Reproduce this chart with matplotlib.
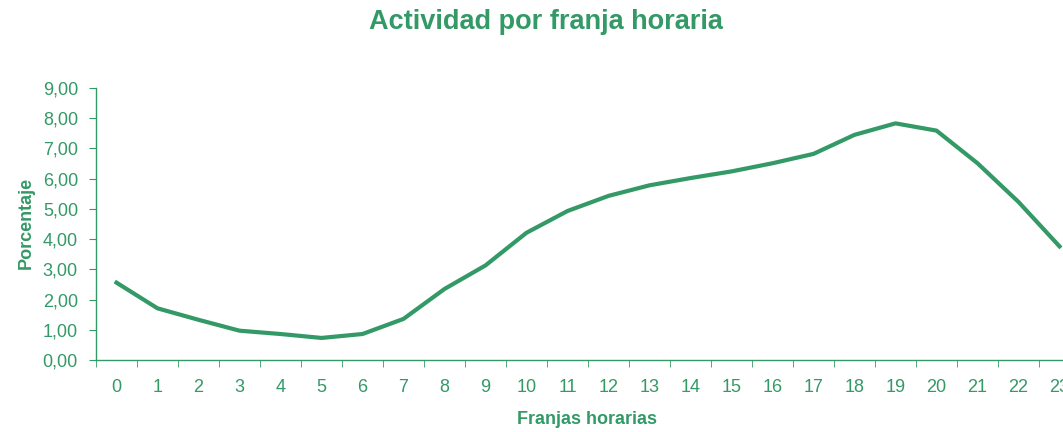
import matplotlib
matplotlib.use("Agg")
import matplotlib.pyplot as plt
from matplotlib.ticker import FixedLocator, FuncFormatter

hours = [str(h) for h in range(24)]
porcentaje = [2.56, 1.71, 1.33, 0.97, 0.86, 0.73, 0.86, 1.36, 2.35, 3.13,
              4.21, 4.93, 5.43, 5.78, 6.02, 6.24, 6.51, 6.82, 7.45, 7.83,
              7.59, 6.51, 5.23, 3.76]
title = "Actividad por franja horaria"
xlabel = "Franjas horarias"
ylabel = "Porcentaje"
yticks = [0, 1, 2, 3, 4, 5, 6, 7, 8, 9]

GREEN = "#339966"
plt.rcParams['font.family'] = ['Liberation Sans', 'DejaVu Sans']

W, H = 1063, 432
fig = plt.figure(figsize=(W / 100, H / 100), dpi=100)
ax = fig.add_axes([96 / W, 1 - 360 / H, 984 / W, 272 / H])

x = list(range(len(hours)))
ax.plot(x, porcentaje, color=GREEN, lw=3.0, solid_joinstyle='round', clip_on=False)

ax.set_xlim(-0.5, len(hours) - 0.5)
ax.set_ylim(0, 9)

for s in ['top', 'right']:
    ax.spines[s].set_visible(False)
for s in ['left', 'bottom']:
    ax.spines[s].set_color(GREEN)
    ax.spines[s].set_linewidth(1.0)

ax.set_yticks(yticks)
ax.yaxis.set_major_formatter(FuncFormatter(lambda v, p: f"{v:.2f}".replace('.', ',')))
ax.tick_params(axis='y', colors=GREEN, labelcolor=GREEN, labelsize=13, length=5, pad=8)

ax.set_xticks(x)
ax.set_xticklabels(hours)
ax.tick_params(axis='x', which='major', length=0, pad=14, labelsize=13, labelcolor=GREEN)
ax.xaxis.set_minor_locator(FixedLocator([i - 0.5 for i in range(len(hours) + 1)]))
ax.tick_params(axis='x', which='minor', length=5, color=GREEN)

fig.text(546 / W, 1 - 22 / H, title, ha='center', va='center', fontsize=19.5,
         fontweight='bold', color=GREEN)
fig.text(587 / W, 1 - 419 / H, xlabel, ha='center', va='center', fontsize=13,
         fontweight='bold', color=GREEN)
fig.text(26 / W, 1 - 223 / H, ylabel, ha='center', va='center', rotation=90,
         fontsize=13, fontweight='bold', color=GREEN)

fig.savefig("out.png", dpi=100)
